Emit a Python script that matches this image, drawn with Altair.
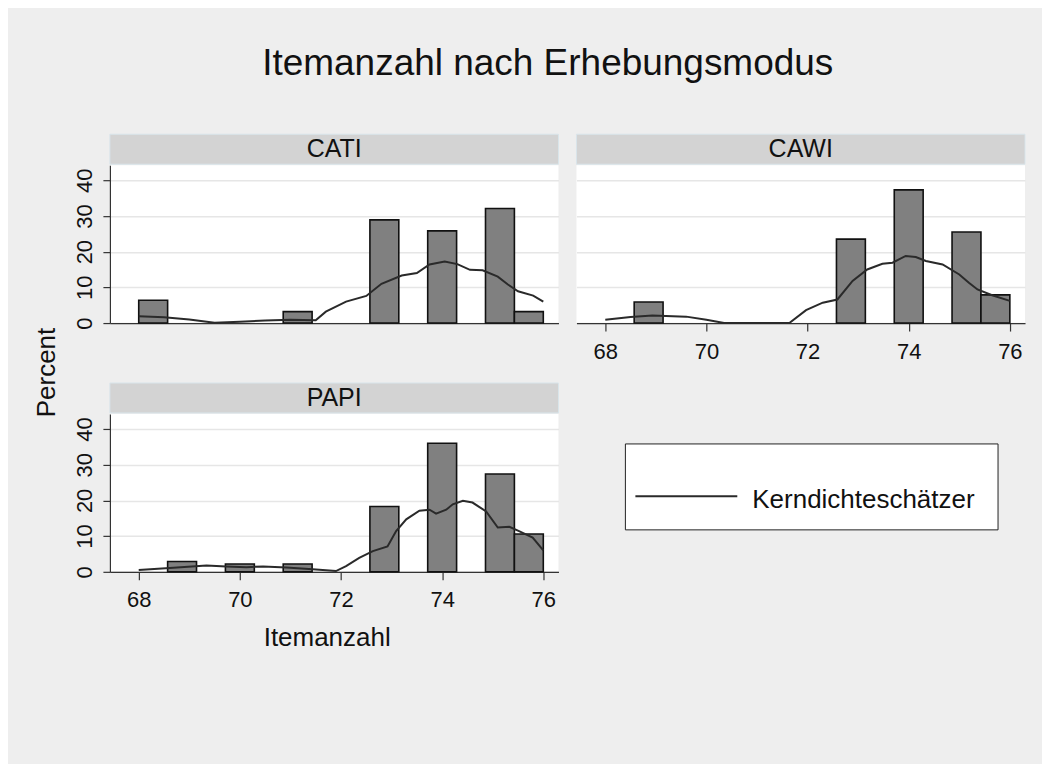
import altair as alt
import pandas as pd

# ---------------- data ----------------
modes = ["CATI", "CAWI", "PAPI"]

bin_lo_edge = 68.0
bin_hi_edge = 76.0
n_bins = 14

cati_vals = [68, 71, 73, 74, 75, 76]
cati_pct = [6.4, 3.2, 28.9, 25.8, 32.1, 3.2]

cawi_vals = [69, 73, 74, 75, 76]
cawi_pct = [5.9, 23.5, 37.3, 25.5, 7.9]

papi_vals = [69, 70, 71, 73, 74, 75, 76]
papi_pct = [2.9, 2.2, 2.2, 18.3, 36.0, 27.4, 10.6]

# kernel density (scaled to percent)
cati_kx = [68.0, 68.5, 69.0, 69.5, 70.0, 70.5, 71.0, 71.5, 71.7, 72.1, 72.5, 72.8,
           73.2, 73.5, 73.75, 74.05, 74.3, 74.55, 74.8, 75.1, 75.3, 75.5, 75.8, 76.0]
cati_ky = [1.9, 1.6, 1.0, 0.1, 0.4, 0.7, 0.9, 0.8, 3.2, 6.0, 7.6, 11.0,
           13.3, 14.0, 16.4, 17.2, 16.5, 14.9, 14.8, 13.0, 10.8, 8.9, 7.7, 6.0]

cawi_kx = [68.0, 68.5, 68.93, 69.6, 70.0, 70.35, 71.0, 71.64, 71.97, 72.3, 72.59, 72.89,
           73.18, 73.48, 73.68, 73.94, 74.14, 74.34, 74.67, 75.0, 75.19, 75.36, 75.65, 76.0]
cawi_ky = [0.9, 1.7, 2.1, 1.8, 0.9, 0.0, 0.0, 0.0, 3.6, 5.7, 6.6, 11.8,
           15.0, 16.6, 16.9, 18.8, 18.5, 17.4, 16.4, 13.6, 11.3, 9.4, 7.8, 6.2]

papi_kx = [68.0, 68.61, 69.34, 69.73, 70.13, 70.46, 70.92, 71.44, 71.9, 72.1, 72.36, 72.63,
           72.92, 73.09, 73.29, 73.55, 73.75, 73.88, 74.08, 74.21, 74.41, 74.6, 74.87, 75.1,
           75.33, 75.52, 75.79, 76.0]
papi_ky = [0.5, 1.1, 1.8, 1.5, 1.3, 1.5, 1.2, 0.75, 0.2, 1.6, 3.9, 5.8,
           7.1, 11.4, 14.7, 17.1, 17.4, 16.3, 17.4, 18.9, 19.9, 19.4, 16.9, 12.4,
           12.6, 11.4, 9.6, 6.0]

x_ticks = [68, 70, 72, 74, 76]
y_ticks = [0, 10, 20, 30, 40]
legend_label = ["Kerndichteschätzer"]

FONT = "Liberation Sans"
W = 449
H = 158


def bars_frame(vals, pct):
    w = (bin_hi_edge - bin_lo_edge) / n_bins
    rows = []
    for v, p in zip(vals, pct):
        idx = min(int((v - bin_lo_edge) // w), n_bins - 1)
        rows.append({"lo": bin_lo_edge + idx * w, "hi": bin_lo_edge + (idx + 1) * w,
                     "pct": p, "base": 0.0})
    return pd.DataFrame(rows)


xscale = alt.Scale(domain=[67.43, 76.3], nice=False, zero=False)
yscale = alt.Scale(domain=[0, 44.2], nice=False)


def make_panel(mode, vals, pct, kx, ky, y_axis_on, x_labels_on, x_title, y_title_on):
    xkw = dict(values=x_ticks, grid=False, domain=True)
    if x_labels_on:
        xkw.update(ticks=True, labels=True, tickSize=8, labelPadding=27,
                   labelBaseline="alphabetic", labelFontSize=22, format="d")
    else:
        xkw.update(ticks=False, labels=False)
    if x_title:
        xkw.update(titleFontSize=26, titleFontWeight="normal", titleX=217, titleY=74,
                   titleBaseline="alphabetic")
    xaxis = alt.Axis(**xkw)

    ykw = dict(values=y_ticks, grid=True)
    if y_axis_on:
        ykw.update(domain=True, ticks=True, labels=True, tickSize=7, labelPadding=11,
                   labelAngle=270, labelAlign="center", labelBaseline="alphabetic",
                   labelFontSize=22)
    else:
        ykw.update(domain=False, ticks=False, labels=False)
    if y_title_on:
        ykw.update(titleFontSize=26, titleFontWeight="normal", titleAngle=270,
                   titleX=-55, titleY=-42, titleAlign="center", titleBaseline="alphabetic")
    yaxis = alt.Axis(**ykw)

    xt = x_title if x_title else None
    yt = "Percent" if y_title_on else None

    bdf = bars_frame(vals, pct)
    ldf = pd.DataFrame({"lo": kx, "pct": ky})
    sdf = pd.DataFrame({"mode": [mode]})

    bars = alt.Chart(bdf).mark_rect(color="#808080", stroke="#111111", strokeWidth=1.6).encode(
        x=alt.X("lo:Q", scale=xscale, axis=xaxis, title=xt),
        x2="hi:Q",
        y=alt.Y("pct:Q", scale=yscale, axis=yaxis, title=yt),
        y2="base:Q",
    )
    line = alt.Chart(ldf).mark_line(color="#2a2a2a", strokeWidth=2).encode(
        x=alt.X("lo:Q", scale=xscale, axis=xaxis, title=xt),
        y=alt.Y("pct:Q", scale=yscale, axis=yaxis, title=yt),
    )
    strip = alt.Chart(sdf).mark_rect(fill="#d3d3d3", stroke="#d9e5eb", strokeWidth=1).encode(
        x=alt.value(0), x2=alt.value(W), y=alt.value(-31), y2=alt.value(-1)
    )
    strip_text = alt.Chart(sdf).mark_text(font=FONT, fontSize=25, color="#111111",
                                          baseline="alphabetic", align="center").encode(
        x=alt.value(W / 2), y=alt.value(-8), text="mode:N"
    )
    return alt.layer(bars, line, strip, strip_text).properties(
        width=W, height=H, view=alt.ViewBackground(fill="white", strokeWidth=0)
    )


cati = make_panel("CATI", cati_vals, cati_pct, cati_kx, cati_ky, True, False, None, False)
cawi = make_panel("CAWI", cawi_vals, cawi_pct, cawi_kx, cawi_ky, False, True, None, False)
papi = make_panel("PAPI", papi_vals, papi_pct, papi_kx, papi_ky, True, True, "Itemanzahl", True)

ldf = pd.DataFrame({"label": legend_label})
leg_box = alt.Chart(ldf).mark_rect(fill="white", stroke="#222222", strokeWidth=1).encode(
    x=alt.value(49), x2=alt.value(422), y=alt.value(30), y2=alt.value(116)
)
leg_line = alt.Chart(ldf).mark_rule(color="#2a2a2a", strokeWidth=2).encode(
    x=alt.value(59), x2=alt.value(161), y=alt.value(82.4)
)
leg_text = alt.Chart(ldf).mark_text(font=FONT, fontSize=26, color="#111111",
                                    align="left", baseline="alphabetic").encode(
    x=alt.value(176), y=alt.value(94), text="label:N"
)
legend_panel = alt.layer(leg_box, leg_line, leg_text).properties(
    width=W, height=H, view=alt.ViewBackground(strokeWidth=0)
)

chart = alt.concat(cati, cawi, papi, legend_panel, columns=2,
                   spacing={"row": 91, "column": 18}, bounds="flush").properties(
    title=alt.TitleParams("Itemanzahl nach Erhebungsmodus", fontSize=37, font=FONT,
                          fontWeight="normal", color="#111111", anchor="middle",
                          dx=18, offset=51),
    padding={"left": 26, "top": 36, "right": 16, "bottom": 113},
    background="#eeeeee",
).configure_axis(
    labelFont=FONT, titleFont=FONT, labelColor="#111111", titleColor="#111111",
    domainColor="#333333", tickColor="#333333", gridColor="#e6e6e6", gridWidth=1.5,
    domainWidth=1.2, tickWidth=1.2,
).configure_view(strokeWidth=0)

chart.save("out.html", embed_options={"renderer": "svg", "actions": False})
